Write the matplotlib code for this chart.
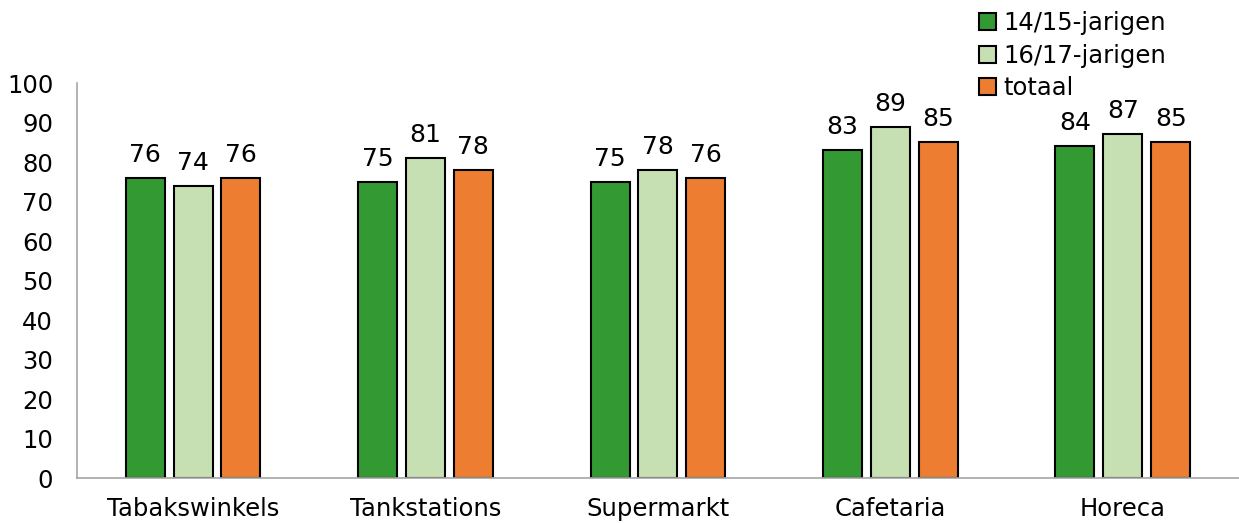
import numpy as np
import matplotlib.pyplot as plt

categories = ["Tabakswinkels", "Tankstations", "Supermarkt", "Cafetaria", "Horeca"]
series_names = ["14/15-jarigen", "16/17-jarigen", "totaal"]
jarigen_14_15 = [76, 75, 75, 83, 84]
jarigen_16_17 = [74, 81, 78, 89, 87]
totaal = [76, 78, 76, 85, 85]

colors = ["#339933", "#C6E0B4", "#ED7D31"]

fig = plt.figure(figsize=(12.39, 5.23), dpi=100)
ax = fig.add_axes([0.062, 0.086, 0.938, 0.755])

x = np.arange(len(categories))
width = 0.168
offset = 0.206
for i, (vals, name) in enumerate(zip([jarigen_14_15, jarigen_16_17, totaal], series_names)):
    bars = ax.bar(x + (i - 1) * offset, vals, width, color=colors[i],
                  edgecolor="black", linewidth=1.5, label=name)
    for b, v in zip(bars, vals):
        ax.text(b.get_x() + b.get_width() / 2, v + 2.8, str(v),
                ha="center", va="bottom", fontsize=18)

ax.set_xlim(-0.5, 4.5)
ax.set_ylim(0, 100)
ax.set_yticks(range(0, 101, 10))
ax.set_xticks(x)
ax.set_xticklabels(categories)
ax.tick_params(axis="both", length=0, labelsize=17.5)
ax.tick_params(axis="x", pad=14)
ax.tick_params(axis="y", pad=17)
for s in ["top", "right"]:
    ax.spines[s].set_visible(False)
for s in ["left", "bottom"]:
    ax.spines[s].set_color("#A6A6A6")
    ax.spines[s].set_linewidth(1.2)

fig.legend(loc="upper left", bbox_to_anchor=(0.782, 0.997), frameon=False,
           fontsize=17.5, handlelength=0.7, handleheight=0.7,
           handletextpad=0.3, labelspacing=0.35, borderaxespad=0)

fig.savefig("out.png", dpi=100)
